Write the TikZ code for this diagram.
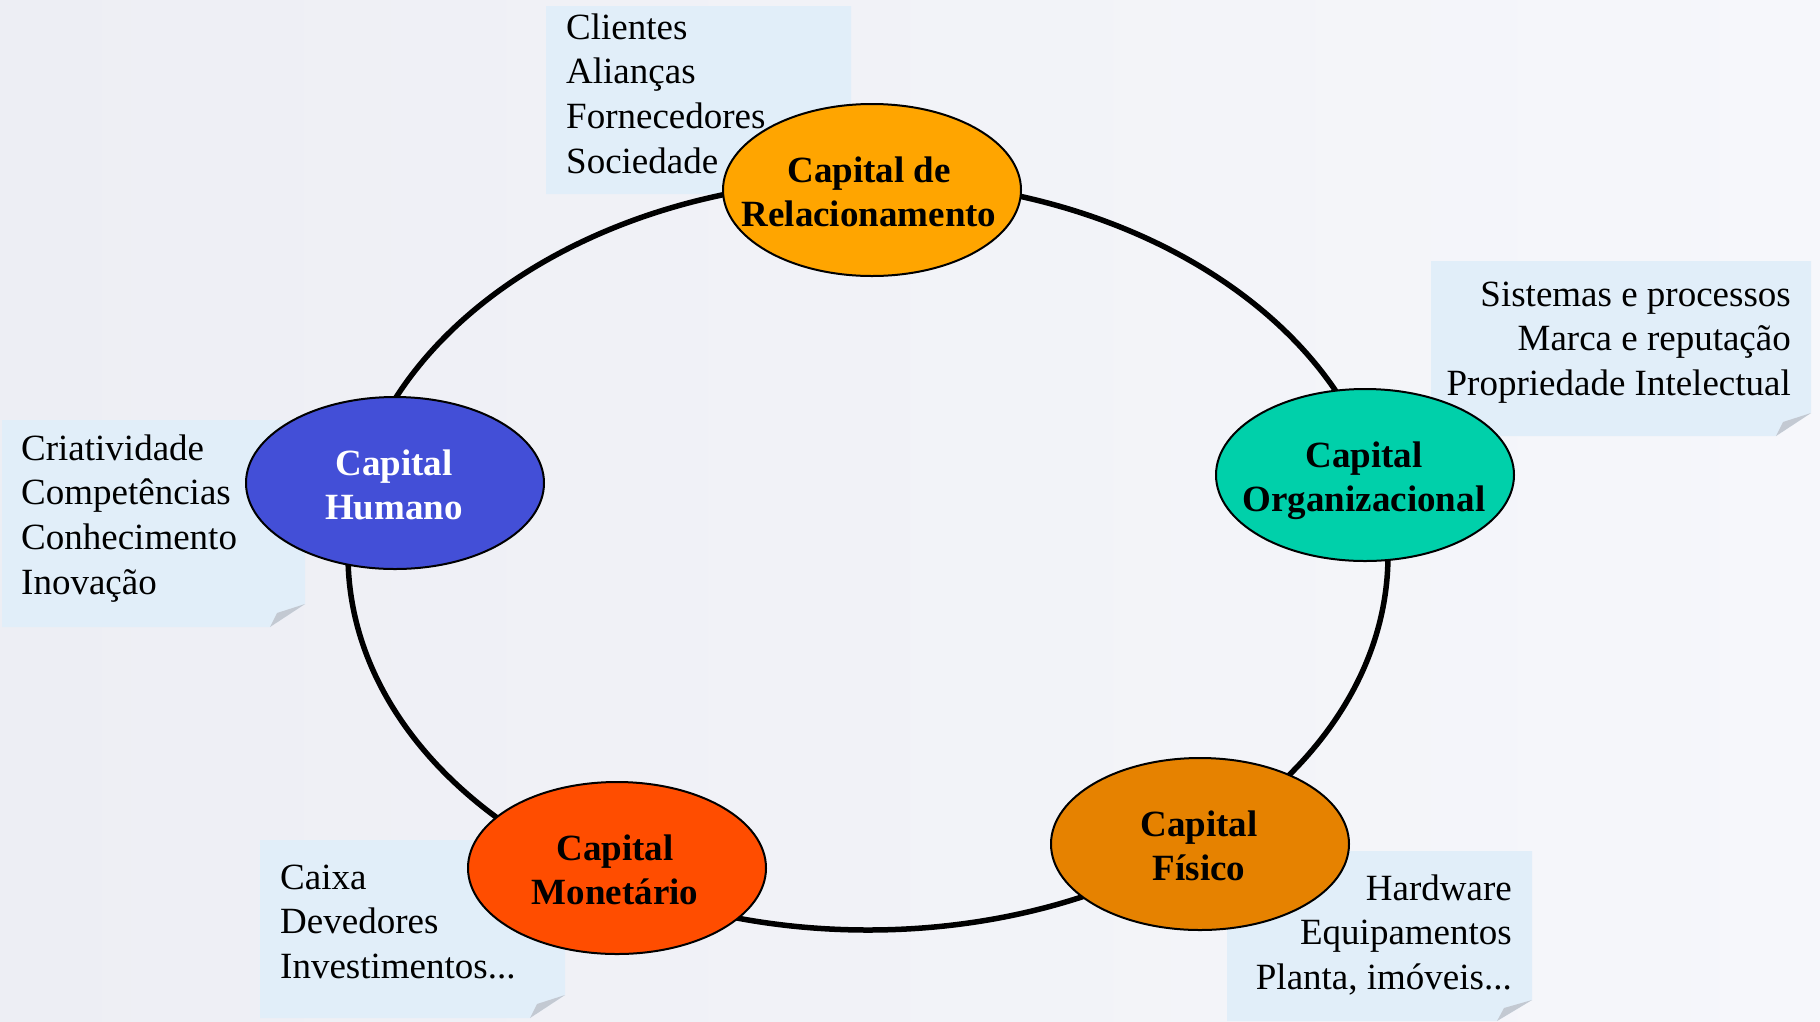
\documentclass[tikz,border=0pt]{standalone}
\usepackage{fontspec}
\setmainfont{Liberation Serif}
\usetikzlibrary{shapes.geometric}
\definecolor{bgL}{HTML}{EDEEF4}
\definecolor{bgR}{HTML}{F6F7FB}
\definecolor{notebg}{HTML}{E1EEF9}
\definecolor{foldc}{HTML}{C3C9D2}
\definecolor{cRel}{HTML}{FFA500}
\definecolor{cHum}{HTML}{434FD7}
\definecolor{cOrg}{HTML}{00D0AA}
\definecolor{cFis}{HTML}{E68200}
\definecolor{cMon}{HTML}{FF4D00}
\begin{document}
\begin{tikzpicture}[x=1pt,y=-1pt,
  capnode/.style={ellipse, draw=black, line width=2pt, minimum width=298pt, minimum height=172pt, inner sep=0pt},
  captext/.style={anchor=base, inner sep=0pt, font=\fontsize{37}{44.7}\selectfont\bfseries},
  notetext/.style={inner sep=0pt, font=\fontsize{37}{44.7}\selectfont},
  notebox/.style={fill=notebg},
  fold/.style={fill=foldc},
  ring/.style={draw=black, line width=5.5pt}]
% background
\shade[left color=bgL, right color=bgR] (0,0) rectangle (1820,1021);
\useasboundingbox (0,0) rectangle (1820,1021);

% note boxes
% top (Relacionamento)
\fill[notebox] (546,6) -| (851,171) -- (816,194) -- (546,194) -- cycle;
\node[notetext, anchor=base west] (ntop) at (566,39)
  {\begin{tabular}[t]{@{}l@{}}Clientes\\Alianças\\Fornecedores\\Sociedade\end{tabular}};
% left (Humano)
\fill[notebox] (2,420) -| (305,604) -- (270,627) -- (2,627) -- cycle;
\fill[fold] (305,604) -- (270,627) -- (277,613) -- cycle;
\node[notetext, anchor=base west] (nhum) at (21,460)
  {\begin{tabular}[t]{@{}l@{}}Criatividade\\Competências\\Conhecimento\\Inovação\end{tabular}};
% right (Organizacional)
\fill[notebox] (1431,261) -| (1811,413) -- (1776,436) -- (1431,436) -- cycle;
\fill[fold] (1811,413) -- (1776,436) -- (1783,422) -- cycle;
\node[notetext, anchor=base east] (norg) at (1791,306)
  {\begin{tabular}[t]{@{}r@{}}Sistemas e processos\\Marca e reputação\\Propriedade Intelectual\end{tabular}};
% bottom left (Monetario)
\fill[notebox] (260,840) -| (565,995) -- (530,1018) -- (260,1018) -- cycle;
\fill[fold] (565,995) -- (530,1018) -- (537,1004) -- cycle;
\node[notetext, anchor=base west] (nmon) at (280,889)
  {\begin{tabular}[t]{@{}l@{}}Caixa\\Devedores\\Investimentos...\end{tabular}};
% bottom right (Fisico)
\fill[notebox] (1227,851) -| (1532,1000) -- (1497,1021) -- (1227,1021) -- cycle;
\fill[fold] (1532,1000) -- (1497,1021) -- (1504,1008) -- cycle;
\node[notetext, anchor=base east] (nfis) at (1512,900)
  {\begin{tabular}[t]{@{}r@{}}Hardware\\Equipamentos\\Planta, imóveis...\end{tabular}};

% ring
\draw[ring] (868,555) ellipse [x radius=520pt, y radius=375pt];

% capital nodes
\node[capnode, fill=cRel] (rel) at (872,190) {};
\node[captext] (relt) at (869,182) {\begin{tabular}[t]{@{}c@{}}Capital de\\Relacionamento\end{tabular}};
\node[capnode, fill=cHum] (hum) at (395,483) {};
\node[captext, text=white] (humt) at (394,475) {\begin{tabular}[t]{@{}c@{}}Capital\\Humano\end{tabular}};
\node[capnode, fill=cOrg] (org) at (1365,475) {};
\node[captext] (orgt) at (1364,467) {\begin{tabular}[t]{@{}c@{}}Capital\\Organizacional\end{tabular}};
\node[capnode, fill=cFis] (fis) at (1200,844) {};
\node[captext] (fist) at (1199,836) {\begin{tabular}[t]{@{}c@{}}Capital\\Físico\end{tabular}};
\node[capnode, fill=cMon] (mon) at (617,868) {};
\node[captext] (mont) at (615,860) {\begin{tabular}[t]{@{}c@{}}Capital\\Monetário\end{tabular}};
\end{tikzpicture}
\end{document}
